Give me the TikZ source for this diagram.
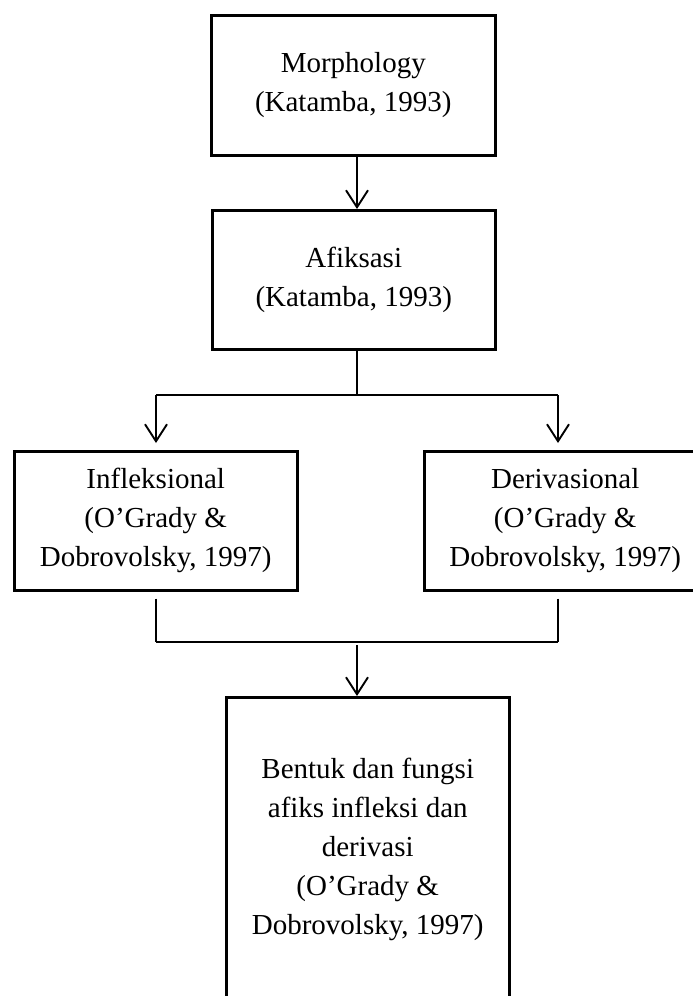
\documentclass[tikz,border=0pt]{standalone}
\usepackage{fontspec}
\setmainfont{Liberation Serif}
\usetikzlibrary{arrows.meta}
\begin{document}
\begin{tikzpicture}[x=1pt,y=-1pt,
  box/.style={draw=black,line width=2.5pt,anchor=north west,align=center,
    inner sep=0pt,font=\fontsize{29}{39}\selectfont},
  conn/.style={line width=1.9pt},
  arr/.style={conn,-{Straight Barb[length=17pt,width=22pt,line width=1.9pt]}}]
\clip (0,0) rectangle (693,996);
\fill[white] (0,0) rectangle (693,996);
\node[box,minimum width=284pt,minimum height=140pt] (b1) at (210,14) {Morphology\\(Katamba, 1993)};
\node[box,minimum width=283pt,minimum height=139pt] (b2) at (211,209) {Afiksasi\\(Katamba, 1993)};
\node[box,minimum width=283pt,minimum height=139pt] (b3) at (13,450) {Infleksional\\(O’Grady \&\\Dobrovolsky, 1997)};
\node[box,minimum width=282pt,minimum height=139pt] (b4) at (423,450) {Derivasional\\(O’Grady \&\\Dobrovolsky, 1997)};
\node[box,minimum width=283pt,minimum height=304pt] (b5) at (225,696) {Bentuk dan fungsi\\afiks infleksi dan\\derivasi\\(O’Grady \&\\Dobrovolsky, 1997)};
\coordinate (cx) at (357,0);
\coordinate (lx) at (156,0);
\coordinate (rx) at (558,0);
\coordinate (fork) at (357,395);
\coordinate (forkL) at (156,395);
\coordinate (forkR) at (558,395);
\coordinate (joinL) at (156,642);
\coordinate (joinR) at (558,642);
\coordinate (join) at (357,645);
\draw[arr] (b1.south -| cx) -- (b2.north -| cx);
\draw[conn] (b2.south -| cx) -- (fork);
\draw[conn] (forkL) -- (forkR);
\draw[arr,shorten >=7pt] (forkL) -- (b3.north -| lx);
\draw[arr,shorten >=7pt] (forkR) -- (b4.north -| rx);
\draw[conn,shorten <=7pt] (b3.south -| lx) -- (joinL);
\draw[conn,shorten <=7pt] (b4.south -| rx) -- (joinR);
\draw[conn] (joinL) -- (joinR);
\draw[arr] (join) -- (b5.north -| cx);
\end{tikzpicture}
\end{document}
